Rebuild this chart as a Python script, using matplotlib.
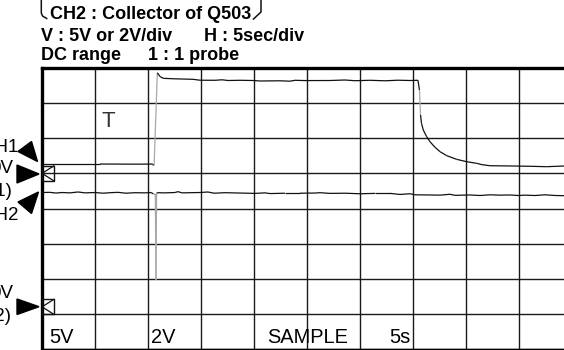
import numpy as np
import matplotlib
matplotlib.use("Agg")
import matplotlib.pyplot as plt
from matplotlib.collections import LineCollection
from matplotlib.patches import Polygon, Rectangle
from matplotlib.lines import Line2D

plt.rcParams['font.family'] = ['Liberation Sans', 'DejaVu Sans']

# scope settings
sec_per_div = 5
ch1_volts_per_div = 5
ch2_volts_per_div = 2
ch1_ground = 5.0   # divisions from bottom
ch2_ground = 1.2

# CH1 trace: time (s), volts
ch1_t = [0, 5.47, 9.25, 10.44, 10.52, 10.58, 10.88, 11.13, 11.44, 12.55, 14.25,
         14.91, 16.32, 16.98, 17.55, 18.68, 19.91, 20.57, 22.45, 23.40, 23.87,
         24.81, 27.17, 28.58, 29.53, 30.94, 32.36, 33.58, 34.72, 35.47, 35.61,
         35.71, 35.80, 35.97, 36.29, 36.60, 37.08, 37.55, 38.18, 39.12, 40.07,
         41.01, 41.51, 42.26, 44.43, 46.04, 47.61, 49.25, 50.0]
ch1_v = [1.33, 1.33, 1.31, 1.33, 1.15, 1.26, 14.32, 13.79, 13.53, 13.46, 13.39,
         13.26, 13.25, 13.32, 13.22, 13.25, 13.22, 13.15, 13.18, 13.12, 13.25,
         13.21, 13.22, 13.29, 13.19, 13.25, 13.18, 13.26, 13.22, 13.25, 11.87,
         8.31, 7.13, 6.17, 5.22, 4.51, 3.71, 3.09, 2.52, 2.00, 1.66,
         1.43, 1.24, 1.09, 1.05, 1.01, 0.95, 1.05, 1.02]

# CH2 trace: time (s), volts
ch2_t = [0, 0.75, 1.32, 1.89, 2.64, 3.40, 4.06, 5.00, 5.75, 6.42, 7.17, 7.92,
         8.77, 9.72, 10.28, 10.52, 10.69, 10.75, 10.81, 10.94, 11.60, 12.55,
         12.83, 13.21, 13.96, 14.91, 15.66, 16.23, 17.26, 18.68, 20.09, 21.04,
         21.51, 22.92, 24.34, 25.75, 26.23, 27.17, 28.58, 30.00, 31.42, 32.83,
         33.77, 34.72, 35.19, 36.60, 37.55, 38.49, 38.96, 40.38, 41.32, 42.26,
         43.21, 44.15, 44.91, 45.57, 46.51, 47.45, 48.40, 49.25, 50.0]
ch2_v = [6.51, 6.52, 6.48, 6.51, 6.49, 6.54, 6.49, 6.51, 6.47, 6.50, 6.52, 6.47,
         6.50, 6.49, 6.51, 6.43, 6.43, 1.53, 6.48, 6.50, 6.49, 6.51,
         6.56, 6.49, 6.50, 6.51, 6.54, 6.47, 6.50, 6.48, 6.46, 6.49,
         6.45, 6.47, 6.47, 6.48, 6.50, 6.46, 6.47, 6.44, 6.46, 6.46,
         6.40, 6.44, 6.38, 6.37, 6.36, 6.41, 6.35, 6.37, 6.34, 6.38,
         6.36, 6.37, 6.34, 6.36, 6.34, 6.38, 6.34, 6.33, 6.34]

bottom_labels = ["5V", "2V", "SAMPLE", "5s"]
bottom_label_t = [0.66, 10.25, 21.2, 32.74]

W, H = 564, 350
fig = plt.figure(figsize=(W / 100, H / 100), dpi=100)


def fx(x, y):
    # pixel position -> figure fraction
    return x / W, 1 - y / H


ax = fig.add_axes([42 / W, 1 / H, 530 / W, 281 / H])
ax.set_xlim(0, 10 * sec_per_div)
ax.set_ylim(0, 8)
ax.set_xticks(np.arange(0, 10 * sec_per_div + 1, sec_per_div))
ax.set_yticks(np.arange(0, 9))
ax.tick_params(length=0, labelbottom=False, labelleft=False)
ax.grid(True, color='#1a1a1a', lw=1.0)
for s in ['left', 'top']:
    ax.spines[s].set_linewidth(2.4)
ax.spines['bottom'].set_linewidth(1.0)
ax.spines['right'].set_linewidth(1.0)
ax.set_axisbelow(True)

trace_col = '#111111'
edge_col = '#a8a8a8'


def draw_trace(t, v, gnd, vdiv):
    t = np.asarray(t, float)
    y = gnd + np.asarray(v, float) / vdiv
    pts = np.column_stack([t, y])
    segs = np.stack([pts[:-1], pts[1:]], axis=1)
    slope = np.abs(np.diff(y)) / np.diff(t)
    cols = [edge_col if s > 3 else trace_col for s in slope]
    ax.add_collection(LineCollection(segs, colors=cols, linewidths=0.9, zorder=3))


draw_trace(ch1_t, ch1_v, ch1_ground, ch1_volts_per_div)
draw_trace(ch2_t, ch2_v, ch2_ground, ch2_volts_per_div)

# ground markers
bw, bh = 1.13, 0.215
for g in (ch1_ground, ch2_ground):
    ax.add_patch(Rectangle((0, g - bh), bw, 2 * bh, fill=False, ec='#111', lw=1.0, zorder=4))
    ax.plot([bw, 0, bw], [g + bh, g, g - bh], color='#111', lw=0.9, zorder=4)

# "T" trigger marker
ax.text(6.23, 6.32, "T", fontsize=16, color='#333', ha='center', va='baseline')

for lab, t in zip(bottom_labels, bottom_label_t):
    ax.text(t, 0.17, lab, fontsize=14.4, ha='left', va='baseline', zorder=5)

# header
hdr = dict(fontsize=13, fontweight='bold', va='baseline', ha='left')
fig.text(*fx(50, 19), "CH2 : Collector of Q503", **hdr)
fig.text(*fx(40.7, 40.7), "V : 5V or 2V/div", **hdr)
fig.text(*fx(204, 40.7), "H : 5sec/div", **hdr)
fig.text(*fx(40.7, 60), "DC range", **hdr)
fig.text(*fx(148, 60), "1 : 1 probe", **hdr)

for pts in ([(41.3, 0), (41.3, 13), (42.5, 16), (46.7, 18.5)],
            [(261, 0), (261, 12), (253.5, 19)]):
    xs, ys = zip(*[fx(*p) for p in pts])
    fig.add_artist(Line2D(xs, ys, color='#111', lw=1.1))

# channel indicators on the left
arrows = [
    [(18, 151.5), (31.5, 141.5), (37.5, 161.5)],
    [(17, 165), (17, 183), (39, 174)],
    [(18, 202), (38.5, 192), (31.5, 213.5)],
    [(17, 299), (17, 314.5), (39, 306.7)],
]
for tri in arrows:
    fig.add_artist(Polygon([fx(*p) for p in tri], closed=True, color='black'))

side = dict(fontsize=13.5, ha='right', va='baseline')
fig.text(*fx(18, 152), "CH1", **side)
fig.text(*fx(13.5, 173), "0V", **side)
fig.text(*fx(13, 196), "(CH1)", **side)
fig.text(*fx(18.5, 219.5), "CH2", **side)
fig.text(*fx(13, 298), "0V", **side)
fig.text(*fx(12, 321), "(CH2)", **side)

fig.savefig("out.png", dpi=100)
